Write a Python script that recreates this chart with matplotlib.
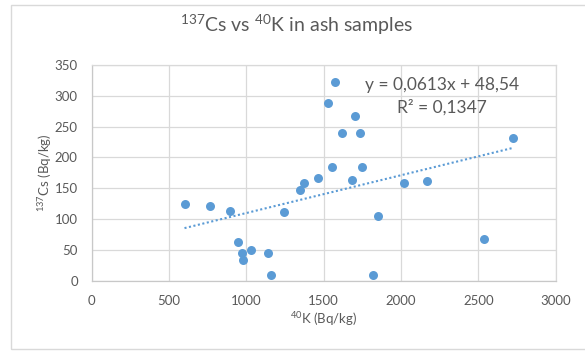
import matplotlib
matplotlib.use("Agg")
import matplotlib.pyplot as plt
from matplotlib.patches import Rectangle
import numpy as np

# ---- data ----
k40 = [600, 765, 892, 948, 972, 980, 1030, 1140, 1159, 1243, 1346, 1372, 1465,
       1529, 1555, 1571, 1616, 1685, 1702, 1734, 1749, 1816, 1849, 2019, 2165,
       2538, 2721]
cs137 = [124, 122, 113, 62, 45, 33, 50, 45, 9, 111, 147, 159, 166,
         289, 184, 322, 239, 163, 267, 240, 185, 10, 105, 158, 161,
         68, 232]
slope = 0.0613
intercept = 48.54
r2 = 0.1347
eq_label = "y = 0,0613x + 48,54"
r2_label = "R² = 0,1347"
x_ticks = [0, 500, 1000, 1500, 2000, 2500, 3000]
y_ticks = [0, 50, 100, 150, 200, 250, 300, 350]
title = r"$^{137}$Cs vs $^{40}$K in ash samples"
xlabel = r"$^{40}$K (Bq/kg)"
ylabel = r"$^{137}$Cs (Bq/kg)"

FONT = "Lato"
plt.rcParams["font.family"] = [FONT, "DejaVu Sans"]
plt.rcParams["mathtext.fontset"] = "custom"
plt.rcParams["mathtext.rm"] = FONT
plt.rcParams["mathtext.it"] = FONT
plt.rcParams["mathtext.bf"] = FONT

TXT = "#595959"
BLUE = "#5B9BD5"
GRID = "#D9D9D9"

W, H = 585, 352
fig = plt.figure(figsize=(W / 100, H / 100), dpi=100)

# outer chart border
fig.patches.append(Rectangle((11 / W, 1 - 349 / H), 1.0, (349 - 5) / H,
                             transform=fig.transFigure, fill=False,
                             edgecolor=GRID, linewidth=1.0))

ax = fig.add_axes([91.7 / W, 1 - 280.7 / H, 464 / W, 215.7 / H])
ax.set_xlim(x_ticks[0], x_ticks[-1])
ax.set_ylim(y_ticks[0], y_ticks[-1])
ax.set_xticks(x_ticks)
ax.set_yticks(y_ticks)
ax.tick_params(length=0, labelsize=9.5, labelcolor=TXT)
ax.tick_params(axis="y", pad=10)
ax.tick_params(axis="x", pad=10)
ax.grid(True, color=GRID, linewidth=0.9)
ax.set_axisbelow(True)
for s in ["top", "right"]:
    ax.spines[s].set_color(GRID)
for s in ["left", "bottom"]:
    ax.spines[s].set_color("#C8C8C8")
for s in ax.spines.values():
    s.set_linewidth(0.9)

ax.scatter(k40, cs137, s=42, color=BLUE, zorder=3, linewidths=0)

xt = np.array([min(k40), max(k40)])
ax.plot(xt, slope * xt + intercept, color=BLUE, linewidth=1.5,
        linestyle=(0, (1, 1.2)), zorder=2)

ax.text(0.755, 0.884, eq_label, transform=ax.transAxes, ha="center",
        va="baseline", fontsize=12.5, color=TXT)
ax.text(0.755, 0.779, r2_label, transform=ax.transAxes, ha="center",
        va="baseline", fontsize=12.5, color=TXT)

fig.text(296 / W, 1 - 32 / H, title, ha="center", va="baseline",
         fontsize=14, color=TXT)
fig.text(324 / W, 1 - 319 / H, xlabel, ha="center", va="center",
         fontsize=9.5, color=TXT)
fig.text(45 / W, 1 - 172.8 / H, ylabel, ha="center", va="center",
         rotation=90, fontsize=9.5, color=TXT)

fig.savefig("out.png", dpi=100)
